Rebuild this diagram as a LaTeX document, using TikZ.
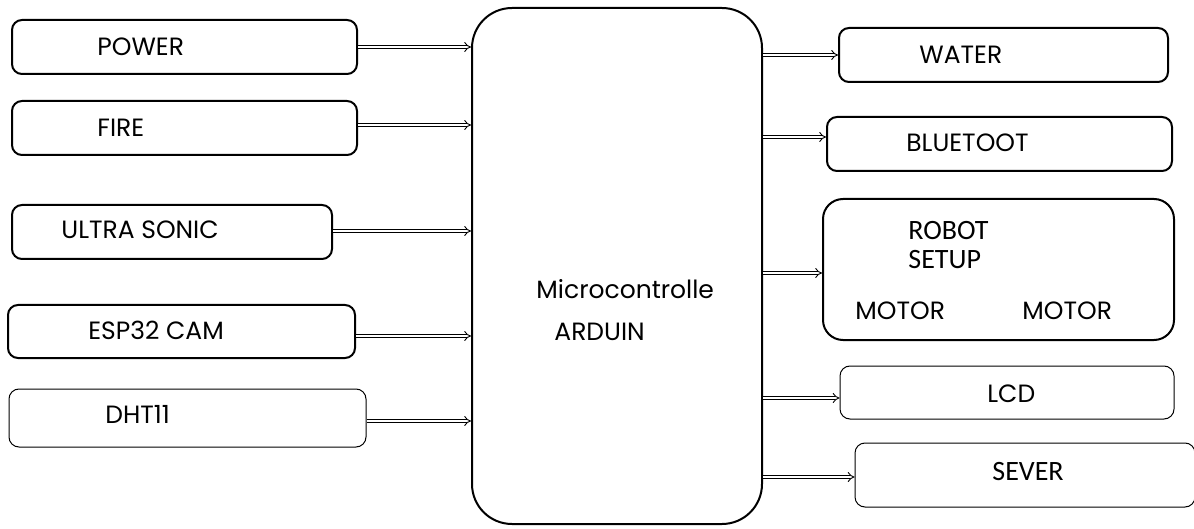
\documentclass[tikz,border=0pt]{standalone}
\usepackage{fontspec}
\setmainfont{Poppins}
\newfontfamily\carlito{Carlito}
\usetikzlibrary{arrows.meta,positioning}

\tikzset{
 blk/.style={draw,rounded corners=5pt,line width=1pt,inner sep=0pt},
 thinblk/.style={blk,line width=.5pt},
 tag/.style={anchor=base west,inner sep=0pt,font=\fontsize{12.5}{14}\selectfont},
 cal/.style={tag,font=\carlito\fontsize{14}{16}\selectfont},
 feed/.style={double,double distance=1.3pt,line width=.45pt,-{Implies}},
}

\begin{document}
\begin{tikzpicture}[x=.5pt,y=-.5pt]
\useasboundingbox (0,0) rectangle (1194,529);
% controller
\node[blk,rounded corners=20pt,minimum width=145pt,minimum height=258pt] (mcu) at (617,266) {};
\node[tag] (mcu-a) at (536,299) {Microcontrolle};
\node[tag] (mcu-b) at (554,340) {ARDUIN};

% inputs
\node[blk,minimum width=172.5pt,minimum height=27pt] (power) at (184.5,47) {};
\node[blk,minimum width=172.5pt,minimum height=27pt] (fire) at (184.5,128) {};
\node[blk,minimum width=160pt,minimum height=27pt] (ultra) at (172,232) {};
\node[blk,minimum width=173.5pt,minimum height=26.5pt] (esp) at (181.5,331.5) {};
\node[thinblk,minimum width=178.5pt,minimum height=29pt] (dht) at (187.5,418) {};
\node[tag] (power-t) at (97,56) {POWER};
\node[tag] (fire-t) at (97,137) {FIRE};
\node[tag] (ultra-t) at (61,239) {ULTRA SONIC};
\node[tag] (esp-t) at (88,339) {ESP32 CAM};
\node[tag] (dht-t) at (105,423) {DHT11};

% outputs
\node[blk,minimum width=164.5pt,minimum height=27pt] (water) at (1003.5,55) {};
\node[blk,minimum width=172.5pt,minimum height=27pt] (blue) at (999.5,144) {};
\node[blk,rounded corners=10pt,minimum width=175.5pt,minimum height=70.5pt] (robot) at (998.5,269.5) {};
\node[thinblk,minimum width=167pt,minimum height=26.5pt] (lcd) at (1007,392.5) {};
\node[thinblk,minimum width=170pt,minimum height=32pt] (sever) at (1025,475) {};
\node[tag] (water-t) at (919,64) {WATER};
\node[tag] (blue-t) at (906,152) {BLUETOOT};
\node[cal] (robot-a) at (908,240) {ROBOT};
\node[cal] (robot-b) at (908,269) {SETUP};
\node[tag] (motor-l) at (855,320) {MOTOR};
\node[tag] (motor-r) at (1022,320) {MOTOR};
\node[tag] (lcd-t) at (987,402) {LCD};
\node[cal] (sever-t) at (992,480) {SEVER};

% links
\foreach \n/\dy in {power/0,fire/1.5,ultra/.5,esp/-2.25,dht/-1.5}
 \draw[feed] ([yshift=\dy pt]\n.east) -- ([yshift=\dy pt]\n.east -| mcu.west);
\foreach \n/\dy in {water/0,blue/3.5,robot/-1.75,lcd/-2.75,sever/-1}
 \draw[feed] ([yshift=\dy pt]\n.west -| mcu.east) -- ([yshift=\dy pt]\n.west);
\end{tikzpicture}
\end{document}
